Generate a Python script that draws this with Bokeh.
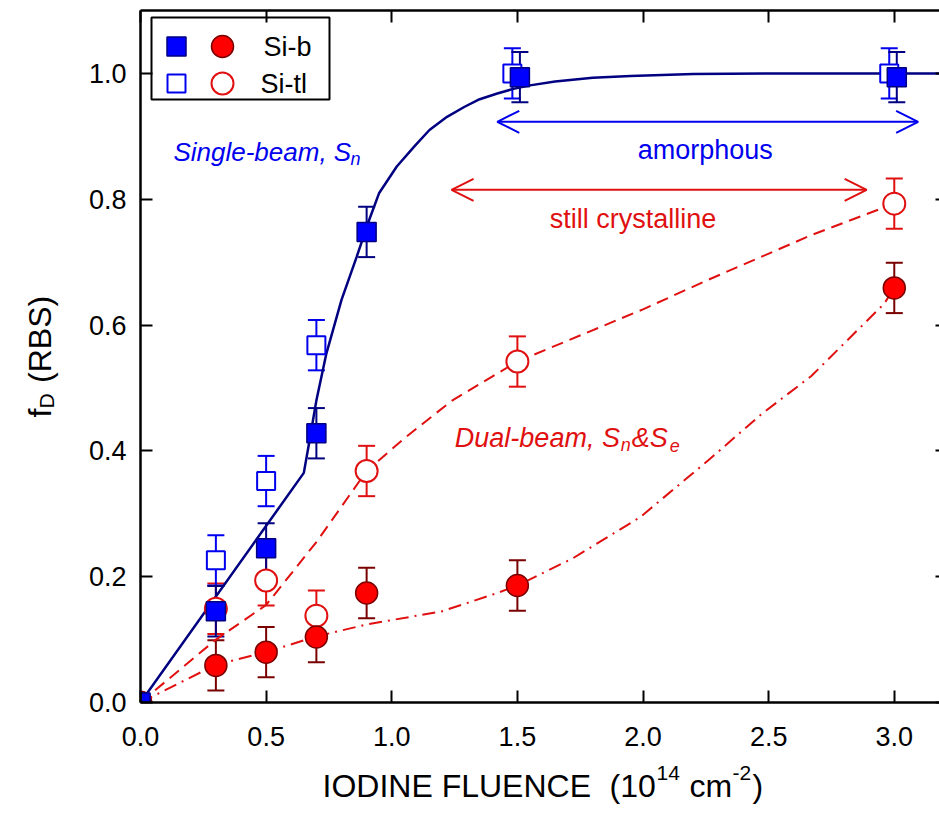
import math

from bokeh.plotting import figure
from bokeh.layouts import row, column
from bokeh.models import (Range1d, LinearAxis, FixedTicker, PrintfTickFormatter,
                          Whisker, ColumnDataSource, Arrow, OpenHead, TeeHead, Label)
from bokeh.embed import file_html
from bokeh.resources import INLINE

# ---------------- data ----------------
# Si-b (filled) and Si-tl (open) disorder fractions vs iodine fluence
sib_sq_x = [0.0, 0.3, 0.5, 0.7, 0.9, 1.51, 3.01]
sib_sq_y = [0.0, 0.145, 0.245, 0.428, 0.748, 0.994, 0.994]
sib_sq_err = [0.0, 0.04, 0.04, 0.04, 0.04, 0.04, 0.04]

sitl_sq_x = [0.0, 0.3, 0.5, 0.7, 1.48, 2.98]
sitl_sq_y = [0.0, 0.226, 0.352, 0.568, 1.0, 1.0]
sitl_sq_err = [0.0, 0.04, 0.04, 0.04, 0.04, 0.04]

sib_ci_x = [0.0, 0.3, 0.5, 0.7, 0.9, 1.5, 3.0]
sib_ci_y = [0.0, 0.059, 0.080, 0.104, 0.174, 0.186, 0.659]
sib_ci_err = [0.0, 0.04, 0.04, 0.04, 0.04, 0.04, 0.04]

sitl_ci_x = [0.0, 0.3, 0.5, 0.7, 0.9, 1.5, 3.0]
sitl_ci_y = [0.0, 0.149, 0.194, 0.138, 0.368, 0.542, 0.793]
sitl_ci_err = [0.0, 0.04, 0.04, 0.04, 0.04, 0.04, 0.04]

# guide curves
single_x = [0.0, 0.65, 0.67, 0.70, 0.74, 0.80, 0.86, 0.91, 0.95, 1.02, 1.09, 1.15,
            1.22, 1.29, 1.35, 1.42, 1.48, 1.55, 1.65, 1.80, 1.95, 2.20, 2.50, 3.20]
single_y = [0.0, 0.365, 0.41, 0.48, 0.555, 0.64, 0.708, 0.767, 0.81, 0.852, 0.884, 0.91,
            0.931, 0.947, 0.959, 0.968, 0.975, 0.981, 0.987, 0.993, 0.996, 0.999, 1.0, 1.0]

dual_tl_x = [0.0, 0.3, 0.5, 0.7, 0.9, 1.05, 1.24, 1.5, 2.0, 2.26, 2.67, 3.0]
dual_tl_y = [0.0, 0.10, 0.155, 0.255, 0.368, 0.42, 0.48, 0.542, 0.625, 0.672, 0.743, 0.793]

dual_b_x = [0.0, 0.3, 0.5, 0.7, 0.9, 1.2, 1.42, 1.5, 1.72, 1.99, 2.26, 2.47, 2.67, 2.96, 3.0]
dual_b_y = [0.0, 0.06, 0.08, 0.105, 0.124, 0.145, 0.174, 0.186, 0.229, 0.295, 0.385,
            0.458, 0.519, 0.634, 0.659]

# annotation ranges
amorph_span = [1.42, 3.095]
amorph_level = 0.923
cryst_span = [1.238, 2.89]
cryst_level = 0.815

x_ticks = [0.0, 0.5, 1.0, 1.5, 2.0, 2.5, 3.0]
y_ticks = [0.0, 0.2, 0.4, 0.6, 0.8, 1.0]

# ---------------- styling ----------------
FONT = "Liberation Sans"
NAVY = "#000080"
BLUE = "#0000EE"
RED = "#E01010"
DARKRED = "#7A0000"

PAGE_W, PAGE_H = 939, 814
TITLE_COL_W = 60          # strip left of the chart holding the y title
CHART_H = 760             # main chart height; the x title strip sits below it
FRAME_W = 799
FRAME_H = 692


def bare_figure(w, h, xr, yr):
    f = figure(width=w, height=h, output_backend="svg", toolbar_location=None,
               x_range=xr, y_range=yr, x_axis_type=None, y_axis_type=None,
               min_border=0)
    f.outline_line_color = None
    f.grid.visible = False
    f.background_fill_color = "white"
    f.border_fill_color = "white"
    return f


p = figure(width=PAGE_W - TITLE_COL_W, height=CHART_H, output_backend="svg",
           toolbar_location=None,
           x_range=Range1d(0.0, 3.18), y_range=Range1d(0.0, 1.10),
           min_border_left=80, min_border_right=0, min_border_top=10,
           min_border_bottom=58, x_axis_type=None, y_axis_type=None)
p.outline_line_color = None
p.grid.visible = False
p.background_fill_color = "white"
p.border_fill_color = "white"

# pixel-style ranges for the in-frame legend
p.extra_x_ranges["px"] = Range1d(0, FRAME_W)
p.extra_y_ranges["px"] = Range1d(0, FRAME_H)


def style_axis(ax, labels=True):
    ax.axis_line_width = 2.5
    ax.axis_line_color = "black"
    ax.major_tick_in = 12
    ax.major_tick_out = 0
    ax.major_tick_line_width = 2
    ax.minor_tick_line_color = None
    if labels:
        ax.major_label_text_font = FONT
        ax.major_label_text_font_size = "27px"
        ax.major_label_text_color = "black"
    else:
        # mirror axes carry ticks only
        ax.major_label_text_font_size = "1px"
        ax.major_label_text_color = None
        ax.major_label_standoff = 0


xb = LinearAxis(ticker=FixedTicker(ticks=x_ticks), formatter=PrintfTickFormatter(format="%.1f"))
style_axis(xb)
xb.major_label_standoff = 24
p.add_layout(xb, "below")

yl = LinearAxis(ticker=FixedTicker(ticks=y_ticks), formatter=PrintfTickFormatter(format="%.1f"))
style_axis(yl)
yl.major_label_standoff = 14
p.add_layout(yl, "left")

xt = LinearAxis(ticker=FixedTicker(ticks=x_ticks))
style_axis(xt, labels=False)
p.add_layout(xt, "above")

yr = LinearAxis(ticker=FixedTicker(ticks=y_ticks))
style_axis(yr, labels=False)
yr.axis_line_color = None
yr.major_tick_in = 4
p.add_layout(yr, "right")

# ---------------- guide curves ----------------
p.line(single_x, single_y, line_color=NAVY, line_width=2.5)
p.line(dual_tl_x, dual_tl_y, line_color=RED, line_width=2, line_dash="12 7")
p.line(dual_b_x, dual_b_y, line_color=RED, line_width=2, line_dash="13 6 2 6")


# ---------------- error bars ----------------
def add_err(xs, ys, es, color):
    pts = [(x, y, e) for x, y, e in zip(xs, ys, es) if e > 0]
    src = ColumnDataSource(dict(x=[a for a, _, _ in pts],
                                lo=[b - c for _, b, c in pts],
                                hi=[b + c for _, b, c in pts]))
    w = Whisker(source=src, base="x", lower="lo", upper="hi", dimension="height",
                line_color=color, line_width=2,
                lower_head=TeeHead(size=17, line_color=color, line_width=2),
                upper_head=TeeHead(size=17, line_color=color, line_width=2))
    p.add_layout(w)


add_err(sitl_ci_x, sitl_ci_y, sitl_ci_err, RED)
add_err(sib_ci_x, sib_ci_y, sib_ci_err, DARKRED)
add_err(sitl_sq_x, sitl_sq_y, sitl_sq_err, BLUE)
add_err(sib_sq_x, sib_sq_y, sib_sq_err, NAVY)

# ---------------- markers ----------------
p.scatter(sitl_ci_x, sitl_ci_y, marker="circle", size=22, fill_color="white",
          line_color=RED, line_width=2)
p.scatter(sib_ci_x, sib_ci_y, marker="circle", size=22, fill_color="#FF0000",
          line_color=DARKRED, line_width=1.5)
p.scatter(sitl_sq_x, sitl_sq_y, marker="square", size=18, fill_color="white",
          line_color=BLUE, line_width=2)
p.scatter(sib_sq_x, sib_sq_y, marker="square", size=19, fill_color="#0000FF",
          line_color=NAVY, line_width=1.5)

# ---------------- range arrows and notes ----------------
p.add_layout(Arrow(x_start=amorph_span[0], x_end=amorph_span[1],
                   y_start=amorph_level, y_end=amorph_level,
                   line_color=BLUE, line_width=2,
                   start=OpenHead(size=22, line_color=BLUE, line_width=2),
                   end=OpenHead(size=22, line_color=BLUE, line_width=2)))
p.add_layout(Arrow(x_start=cryst_span[0], x_end=cryst_span[1],
                   y_start=cryst_level, y_end=cryst_level,
                   line_color=RED, line_width=2,
                   start=OpenHead(size=22, line_color=RED, line_width=2),
                   end=OpenHead(size=22, line_color=RED, line_width=2)))


def note(fig, x, y, text, color, size=26, style="normal", align="left", dx=0, dy=0,
         baseline="alphabetic", units="data", angle=0.0):
    fig.add_layout(Label(x=x, y=y, x_units=units, y_units=units, text=text,
                         text_color=color, text_font=FONT, text_font_size=f"{size}px",
                         text_font_style=style, text_align=align,
                         text_baseline=baseline, x_offset=dx, y_offset=dy, angle=angle))


note(p, sum(amorph_span) / 2 - 0.01, 0.878, "amorphous", BLUE, size=27, align="center")
note(p, 1.96, 0.769, "still crystalline", RED, size=27, align="center")

# Single-beam, S_n
note(p, 0.131, 0.875, "Single-beam, S", BLUE, size=26, style="italic")
note(p, 0.131, 0.875, "n", BLUE, size=18, style="italic", dx=177, dy=-7)

# Dual-beam, S_n&S_e
note(p, 1.251, 0.42, "Dual-beam, S", RED, size=27, style="italic")
note(p, 1.251, 0.42, "n", RED, size=18, style="italic", dx=166, dy=-7)
note(p, 1.251, 0.42, "&S", RED, size=27, style="italic", dx=177)
note(p, 1.251, 0.42, "e", RED, size=18, style="italic", dx=215, dy=-7)

# ---------------- legend (frame pixel coordinates) ----------------
p.quad(left=[11], right=[189], top=[685], bottom=[603], fill_color="white",
       line_color="black", line_width=2, x_range_name="px", y_range_name="px")
p.scatter([36], [656], marker="square", size=19, fill_color="#0000FF", line_color=NAVY,
          line_width=1.5, x_range_name="px", y_range_name="px")
p.scatter([82], [656], marker="circle", size=22, fill_color="#FF0000", line_color=DARKRED,
          line_width=1.5, x_range_name="px", y_range_name="px")
p.scatter([36], [619], marker="square", size=18, fill_color="white", line_color=BLUE,
          line_width=2, x_range_name="px", y_range_name="px")
p.scatter([82], [619], marker="circle", size=22, fill_color="white", line_color=RED,
          line_width=2, x_range_name="px", y_range_name="px")
note(p, 123, 656, "Si-b", "black", size=27, baseline="middle", units="screen")
note(p, 120, 619, "Si-tl", "black", size=27, baseline="middle", units="screen")

# ---------------- axis titles (page pixel coordinates, y downwards) ----------------
# x title strip across the full page width under the chart
xtitle = bare_figure(PAGE_W, PAGE_H - CHART_H, Range1d(0, PAGE_W), Range1d(PAGE_H, CHART_H))
XS = 322   # left end of the title
XB = 785   # text line position
note(xtitle, XS, XB, "IODINE FLUENCE", "black", size=32)
note(xtitle, XS + 287, XB, "(10", "black", size=32)
note(xtitle, XS + 334, XB - 13, "14", "black", size=21)
note(xtitle, XS + 367, XB, "cm", "black", size=32)
note(xtitle, XS + 410, XB - 13, "-2", "black", size=21)
note(xtitle, XS + 430, XB, ")", "black", size=32)

# y title strip left of the chart: f_D (RBS), reading upwards
ytitle = bare_figure(TITLE_COL_W, CHART_H, Range1d(0, TITLE_COL_W), Range1d(CHART_H, 0))
ang = math.pi / 2
YS = 447   # where "f" starts
note(ytitle, 39, YS, "f", "black", size=32, angle=ang)
note(ytitle, 46, YS - 10, "D", "black", size=21, angle=ang)
note(ytitle, 39, YS - 38, "(RBS)", "black", size=32, angle=ang)

page = column(row(ytitle, p), xtitle)
open("out.html", "w").write(file_html(page, INLINE))
